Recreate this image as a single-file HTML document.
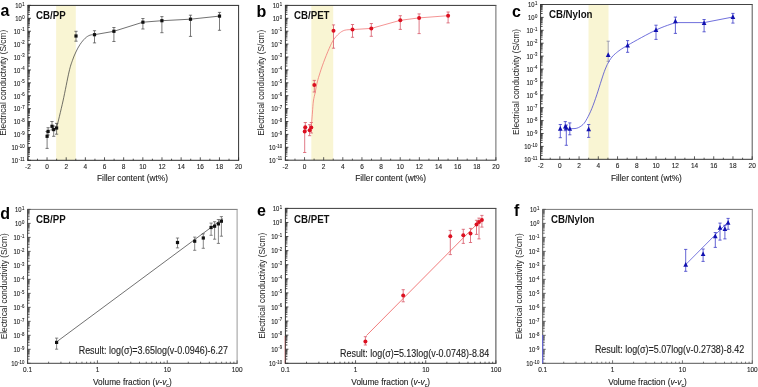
<!DOCTYPE html><html><head><meta charset="utf-8"><style>html,body{margin:0;padding:0;background:#fff;width:758px;height:387px;overflow:hidden}svg{display:block;will-change:transform}</style></head><body><svg width="758" height="387" viewBox="0 0 758 387" font-family='"Liberation Sans", sans-serif'>
<rect width="758" height="387" fill="#fff"/>
<rect x="56.15" y="5.4" width="19.63" height="154.9" fill="#F9F5D3"/>
<rect x="311.33" y="5.4" width="21.91" height="154.8" fill="#F9F5D3"/>
<rect x="588.5" y="4.5" width="20.01" height="154.8" fill="#F9F5D3"/>
<path d="M47.1 136.3V131.5M45.5 131.5h3.2 M47.1 136.3V148.4M45.5 148.4h3.2 M48.1 131.4V127.7M46.5 127.7h3.2 M48.1 131.4V135M46.5 135h3.2 M52 126.3V121.5M50.4 121.5h3.2 M52 126.3V130M50.4 130h3.2 M53.7 129.6V126M52.1 126h3.2 M53.7 129.6V136.3M52.1 136.3h3.2 M56.6 128V123.4M55 123.4h3.2 M56.6 128V134.2M55 134.2h3.2 M76 36V31.3M74.4 31.3h3.2 M76 36V41.2M74.4 41.2h3.2 M94.5 34.7V30.7M92.9 30.7h3.2 M94.5 34.7V42.9M92.9 42.9h3.2 M113.9 31.3V27.5M112.3 27.5h3.2 M113.9 31.3V41.5M112.3 41.5h3.2 M142.9 22.2V18.5M141.3 18.5h3.2 M142.9 22.2V29M141.3 29h3.2 M161.9 20.7V16.6M160.3 16.6h3.2 M161.9 20.7V32.7M160.3 32.7h3.2 M190.5 19.2V15.2M188.9 15.2h3.2 M190.5 19.2V36.4M188.9 36.4h3.2 M219.5 16.1V12.4M217.9 12.4h3.2 M219.5 16.1V30.3M217.9 30.3h3.2" stroke="#444" stroke-width="0.7" fill="none"/>
<path d="M56.6 128 C57.67 123.5 60.93 110.33 63 101 C65.07 91.67 67.43 78.75 69 72 C70.57 65.25 71.25 63.83 72.4 60.5 C73.55 57.17 74.63 54.67 75.9 52 C77.17 49.33 78.45 46.8 80 44.5 C81.55 42.2 83.55 39.75 85.2 38.2 C86.85 36.65 88.35 35.78 89.9 35.2 C91.45 34.62 93.73 34.78 94.5 34.7 L113.9 31.3 L142.9 22.2 L161.9 20.7 L190.5 19.2 L219.5 16.1" stroke="#333" stroke-width="0.7" fill="none"/>
<rect x="45.5" y="134.7" width="3.2" height="3.2" fill="#111"/>
<rect x="46.5" y="129.8" width="3.2" height="3.2" fill="#111"/>
<rect x="50.4" y="124.7" width="3.2" height="3.2" fill="#111"/>
<rect x="52.1" y="128" width="3.2" height="3.2" fill="#111"/>
<rect x="55" y="126.4" width="3.2" height="3.2" fill="#111"/>
<rect x="74.4" y="34.4" width="3.2" height="3.2" fill="#111"/>
<rect x="92.9" y="33.1" width="3.2" height="3.2" fill="#111"/>
<rect x="112.3" y="29.7" width="3.2" height="3.2" fill="#111"/>
<rect x="141.3" y="20.6" width="3.2" height="3.2" fill="#111"/>
<rect x="160.3" y="19.1" width="3.2" height="3.2" fill="#111"/>
<rect x="188.9" y="17.6" width="3.2" height="3.2" fill="#111"/>
<rect x="217.9" y="14.5" width="3.2" height="3.2" fill="#111"/>
<path d="M304.7 131.6V128M303.1 128h3.2 M304.7 131.6V152.5M303.1 152.5h3.2 M305.3 127.3V122.5M303.7 122.5h3.2 M305.3 127.3V130M303.7 130h3.2 M309.6 130.3V124.7M308 124.7h3.2 M309.6 130.3V135.7M308 135.7h3.2 M311.3 127.5V122.5M309.7 122.5h3.2 M311.3 127.5V133M309.7 133h3.2 M314.3 85V80.4M312.7 80.4h3.2 M314.3 85V92M312.7 92h3.2 M333.5 30.7V24.9M331.9 24.9h3.2 M333.5 30.7V48.2M331.9 48.2h3.2 M352.5 29.6V24.5M350.9 24.5h3.2 M352.5 29.6V37.3M350.9 37.3h3.2 M371.3 28.4V23.5M369.7 23.5h3.2 M371.3 28.4V36.3M369.7 36.3h3.2 M400.3 20.3V15.7M398.7 15.7h3.2 M400.3 20.3V29.4M398.7 29.4h3.2 M419.1 17.9V13.9M417.5 13.9h3.2 M419.1 17.9V33.6M417.5 33.6h3.2 M448.1 15.7V12M446.5 12h3.2 M448.1 15.7V22.9M446.5 22.9h3.2" stroke="#D85868" stroke-width="0.8" fill="none"/>
<path d="M311.2 128 C311.4 125.5 312.03 117.5 312.4 113 C312.77 108.5 312.92 104.5 313.4 101 C313.88 97.5 314.73 94.83 315.3 92 C315.87 89.17 316.13 86.83 316.8 84 C317.47 81.17 318.18 78.57 319.3 75 C320.42 71.43 321.85 67.03 323.5 62.6 C325.15 58.17 327.53 52.18 329.2 48.4 C330.87 44.62 331.85 42.38 333.5 39.9 C335.15 37.42 337.22 35.12 339.1 33.5 C340.98 31.88 342.57 30.85 344.8 30.2 C347.03 29.55 351.22 29.7 352.5 29.6 L371.3 28.4 L400.3 20.3 L419.1 17.9 L448.1 15.7" stroke="#F07070" stroke-width="0.75" fill="none"/>
<circle cx="304.7" cy="131.6" r="2.0" fill="#DC1020"/>
<circle cx="305.3" cy="127.3" r="2.0" fill="#DC1020"/>
<circle cx="309.6" cy="130.3" r="2.0" fill="#DC1020"/>
<circle cx="311.3" cy="127.5" r="2.0" fill="#DC1020"/>
<circle cx="314.3" cy="85" r="2.0" fill="#DC1020"/>
<circle cx="333.5" cy="30.7" r="2.0" fill="#DC1020"/>
<circle cx="352.5" cy="29.6" r="2.0" fill="#DC1020"/>
<circle cx="371.3" cy="28.4" r="2.0" fill="#DC1020"/>
<circle cx="400.3" cy="20.3" r="2.0" fill="#DC1020"/>
<circle cx="419.1" cy="17.9" r="2.0" fill="#DC1020"/>
<circle cx="448.1" cy="15.7" r="2.0" fill="#DC1020"/>
<path d="M560.3 128.6V124.5M558.7 124.5h3.2 M560.3 128.6V137.7M558.7 137.7h3.2 M565.3 126.5V121.6M563.7 121.6h3.2 M565.3 126.5V130.7M563.7 130.7h3.2 M566.3 127.6V125M564.7 125h3.2 M566.3 127.6V145.3M564.7 145.3h3.2 M569.8 128.6V122.9M568.2 122.9h3.2 M569.8 128.6V134.8M568.2 134.8h3.2 M588.7 129.1V124.5M587.1 124.5h3.2 M588.7 129.1V137.4M587.1 137.4h3.2 M627.6 45.3V40.6M626 40.6h3.2 M627.6 45.3V52.3M626 52.3h3.2 M656 29.8V25.2M654.4 25.2h3.2 M656 29.8V39.4M654.4 39.4h3.2 M675.4 21.2V17.1M673.8 17.1h3.2 M675.4 21.2V33.4M673.8 33.4h3.2 M704.1 22.8V19.5M702.5 19.5h3.2 M704.1 22.8V31.8M702.5 31.8h3.2 M732.9 16.8V13.4M731.3 13.4h3.2 M732.9 16.8V23.1M731.3 23.1h3.2" stroke="#3c3cc8" stroke-width="0.8" fill="none"/>
<path d="M608.2 54.8V41.2M606.6 41.2h3.2 M608.2 54.8V61.3M606.6 61.3h3.2" stroke="#8080A0" stroke-width="0.7" fill="none"/>
<path d="M569.8 128.6 C570.98 128.53 574.7 128.88 576.9 128.2 C579.1 127.52 581.3 126.12 583 124.5 C584.7 122.88 585.62 121.18 587.1 118.5 C588.58 115.82 590.28 112.35 591.9 108.4 C593.52 104.45 595.2 99.53 596.8 94.8 C598.4 90.07 600.08 84.3 601.5 80 C602.92 75.7 603.97 72.25 605.3 69 C606.63 65.75 607.8 63.08 609.5 60.5 C611.2 57.92 612.48 56.03 615.5 53.5 C618.52 50.97 620.85 49.22 627.6 45.3 C634.35 41.38 648.03 33.78 656 30 C663.97 26.22 672.17 23.83 675.4 22.6 L704.1 22.6 L732.9 17.0" stroke="#4040D0" stroke-width="0.75" fill="none"/>
<path d="M560.3 126.02L562.65 130.72L557.95 130.72Z" fill="#1010B0"/>
<path d="M565.3 123.92L567.65 128.62L562.95 128.62Z" fill="#1010B0"/>
<path d="M566.3 125.02L568.65 129.72L563.95 129.72Z" fill="#1010B0"/>
<path d="M569.8 126.02L572.15 130.72L567.45 130.72Z" fill="#1010B0"/>
<path d="M588.7 126.52L591.05 131.22L586.35 131.22Z" fill="#1010B0"/>
<path d="M608.2 52.21L610.55 56.91L605.85 56.91Z" fill="#1010B0"/>
<path d="M627.6 42.71L629.95 47.41L625.25 47.41Z" fill="#1010B0"/>
<path d="M656 27.21L658.35 31.91L653.65 31.91Z" fill="#1010B0"/>
<path d="M675.4 18.61L677.75 23.31L673.05 23.31Z" fill="#1010B0"/>
<path d="M704.1 20.21L706.45 24.91L701.75 24.91Z" fill="#1010B0"/>
<path d="M732.9 14.21L735.25 18.91L730.55 18.91Z" fill="#1010B0"/>
<path d="M27.4 5.4H239.1" stroke="#2a2a2a" stroke-width="1.0"/>
<path d="M238.6 5.4V160.3" stroke="#333" stroke-width="1.0"/>
<path d="M27.9 5.4V160.8M27.4 160.3H239.1" stroke="#2a2a2a" stroke-width="1.0"/>
<path d="M27.9 5.4h3 M27.9 14.42h2.0 M27.9 12.15h2.0 M27.9 10.54h2.0 M27.9 9.29h2.0 M27.9 8.26h2.0 M27.9 7.4h2.0 M27.9 6.65h2.0 M27.9 5.99h2.0 M27.9 18.31h3 M27.9 27.33h2.0 M27.9 25.06h2.0 M27.9 23.45h2.0 M27.9 22.19h2.0 M27.9 21.17h2.0 M27.9 20.31h2.0 M27.9 19.56h2.0 M27.9 18.9h2.0 M27.9 31.22h3 M27.9 40.24h2.0 M27.9 37.97h2.0 M27.9 36.35h2.0 M27.9 35.1h2.0 M27.9 34.08h2.0 M27.9 33.22h2.0 M27.9 32.47h2.0 M27.9 31.81h2.0 M27.9 44.12h3 M27.9 53.15h2.0 M27.9 50.87h2.0 M27.9 49.26h2.0 M27.9 48.01h2.0 M27.9 46.99h2.0 M27.9 46.12h2.0 M27.9 45.38h2.0 M27.9 44.72h2.0 M27.9 57.03h3 M27.9 66.06h2.0 M27.9 63.78h2.0 M27.9 62.17h2.0 M27.9 60.92h2.0 M27.9 59.9h2.0 M27.9 59.03h2.0 M27.9 58.28h2.0 M27.9 57.62h2.0 M27.9 69.94h3 M27.9 78.96h2.0 M27.9 76.69h2.0 M27.9 75.08h2.0 M27.9 73.83h2.0 M27.9 72.81h2.0 M27.9 71.94h2.0 M27.9 71.19h2.0 M27.9 70.53h2.0 M27.9 82.85h3 M27.9 91.87h2.0 M27.9 89.6h2.0 M27.9 87.99h2.0 M27.9 86.74h2.0 M27.9 85.71h2.0 M27.9 84.85h2.0 M27.9 84.1h2.0 M27.9 83.44h2.0 M27.9 95.76h3 M27.9 104.78h2.0 M27.9 102.51h2.0 M27.9 100.9h2.0 M27.9 99.64h2.0 M27.9 98.62h2.0 M27.9 97.76h2.0 M27.9 97.01h2.0 M27.9 96.35h2.0 M27.9 108.67h3 M27.9 117.69h2.0 M27.9 115.42h2.0 M27.9 113.8h2.0 M27.9 112.55h2.0 M27.9 111.53h2.0 M27.9 110.67h2.0 M27.9 109.92h2.0 M27.9 109.26h2.0 M27.9 121.58h3 M27.9 130.6h2.0 M27.9 128.32h2.0 M27.9 126.71h2.0 M27.9 125.46h2.0 M27.9 124.44h2.0 M27.9 123.57h2.0 M27.9 122.83h2.0 M27.9 122.17h2.0 M27.9 134.48h3 M27.9 143.51h2.0 M27.9 141.23h2.0 M27.9 139.62h2.0 M27.9 138.37h2.0 M27.9 137.35h2.0 M27.9 136.48h2.0 M27.9 135.73h2.0 M27.9 135.07h2.0 M27.9 147.39h3 M27.9 156.41h2.0 M27.9 154.14h2.0 M27.9 152.53h2.0 M27.9 151.28h2.0 M27.9 150.26h2.0 M27.9 149.39h2.0 M27.9 148.64h2.0 M27.9 147.98h2.0 M27.9 160.3h3" stroke="#2a2a2a" stroke-width="0.9" fill="none"/>
<text transform="translate(24.6,5.6) scale(1,1.13)" font-size="4.3" text-anchor="end" fill="#222" stroke="#222" stroke-width="0.1">1</text>
<text transform="translate(21.81,8.2) scale(1,1.2)" font-size="5.9" text-anchor="end" fill="#222" stroke="#222" stroke-width="0.1">10</text>
<text transform="translate(24.6,18.51) scale(1,1.13)" font-size="4.3" text-anchor="end" fill="#222" stroke="#222" stroke-width="0.1">0</text>
<text transform="translate(21.81,21.11) scale(1,1.2)" font-size="5.9" text-anchor="end" fill="#222" stroke="#222" stroke-width="0.1">10</text>
<text transform="translate(24.6,31.42) scale(1,1.13)" font-size="4.3" text-anchor="end" fill="#222" stroke="#222" stroke-width="0.1">-1</text>
<text transform="translate(20.38,34.02) scale(1,1.2)" font-size="5.9" text-anchor="end" fill="#222" stroke="#222" stroke-width="0.1">10</text>
<text transform="translate(24.6,44.33) scale(1,1.13)" font-size="4.3" text-anchor="end" fill="#222" stroke="#222" stroke-width="0.1">-2</text>
<text transform="translate(20.38,46.92) scale(1,1.2)" font-size="5.9" text-anchor="end" fill="#222" stroke="#222" stroke-width="0.1">10</text>
<text transform="translate(24.6,57.23) scale(1,1.13)" font-size="4.3" text-anchor="end" fill="#222" stroke="#222" stroke-width="0.1">-3</text>
<text transform="translate(20.38,59.83) scale(1,1.2)" font-size="5.9" text-anchor="end" fill="#222" stroke="#222" stroke-width="0.1">10</text>
<text transform="translate(24.6,70.14) scale(1,1.13)" font-size="4.3" text-anchor="end" fill="#222" stroke="#222" stroke-width="0.1">-4</text>
<text transform="translate(20.38,72.74) scale(1,1.2)" font-size="5.9" text-anchor="end" fill="#222" stroke="#222" stroke-width="0.1">10</text>
<text transform="translate(24.6,83.05) scale(1,1.13)" font-size="4.3" text-anchor="end" fill="#222" stroke="#222" stroke-width="0.1">-5</text>
<text transform="translate(20.38,85.65) scale(1,1.2)" font-size="5.9" text-anchor="end" fill="#222" stroke="#222" stroke-width="0.1">10</text>
<text transform="translate(24.6,95.96) scale(1,1.13)" font-size="4.3" text-anchor="end" fill="#222" stroke="#222" stroke-width="0.1">-6</text>
<text transform="translate(20.38,98.56) scale(1,1.2)" font-size="5.9" text-anchor="end" fill="#222" stroke="#222" stroke-width="0.1">10</text>
<text transform="translate(24.6,108.87) scale(1,1.13)" font-size="4.3" text-anchor="end" fill="#222" stroke="#222" stroke-width="0.1">-7</text>
<text transform="translate(20.38,111.47) scale(1,1.2)" font-size="5.9" text-anchor="end" fill="#222" stroke="#222" stroke-width="0.1">10</text>
<text transform="translate(24.6,121.78) scale(1,1.13)" font-size="4.3" text-anchor="end" fill="#222" stroke="#222" stroke-width="0.1">-8</text>
<text transform="translate(20.38,124.38) scale(1,1.2)" font-size="5.9" text-anchor="end" fill="#222" stroke="#222" stroke-width="0.1">10</text>
<text transform="translate(24.6,134.68) scale(1,1.13)" font-size="4.3" text-anchor="end" fill="#222" stroke="#222" stroke-width="0.1">-9</text>
<text transform="translate(20.38,137.28) scale(1,1.2)" font-size="5.9" text-anchor="end" fill="#222" stroke="#222" stroke-width="0.1">10</text>
<text transform="translate(24.6,147.59) scale(1,1.13)" font-size="4.3" text-anchor="end" fill="#222" stroke="#222" stroke-width="0.1">-10</text>
<text transform="translate(17.99,150.19) scale(1,1.2)" font-size="5.9" text-anchor="end" fill="#222" stroke="#222" stroke-width="0.1">10</text>
<text transform="translate(24.6,160.5) scale(1,1.13)" font-size="4.3" text-anchor="end" fill="#222" stroke="#222" stroke-width="0.1">-11</text>
<text transform="translate(17.99,163.1) scale(1,1.2)" font-size="5.9" text-anchor="end" fill="#222" stroke="#222" stroke-width="0.1">10</text>
<path d="M27.9 160.3v-3 M37.48 160.3v-1.6 M47.05 160.3v-3 M56.63 160.3v-1.6 M66.21 160.3v-3 M75.79 160.3v-1.6 M85.36 160.3v-3 M94.94 160.3v-1.6 M104.52 160.3v-3 M114.1 160.3v-1.6 M123.67 160.3v-3 M133.25 160.3v-1.6 M142.83 160.3v-3 M152.4 160.3v-1.6 M161.98 160.3v-3 M171.56 160.3v-1.6 M181.14 160.3v-3 M190.71 160.3v-1.6 M200.29 160.3v-3 M209.87 160.3v-1.6 M219.45 160.3v-3 M229.02 160.3v-1.6 M238.6 160.3v-3" stroke="#2a2a2a" stroke-width="0.8" fill="none"/>
<text transform="translate(27.9,169.15) scale(1,1.13)" font-size="6.5" text-anchor="middle" fill="#222" stroke="#222" stroke-width="0.1">-2</text>
<text transform="translate(47.05,169.15) scale(1,1.13)" font-size="6.5" text-anchor="middle" fill="#222" stroke="#222" stroke-width="0.1">0</text>
<text transform="translate(66.21,169.15) scale(1,1.13)" font-size="6.5" text-anchor="middle" fill="#222" stroke="#222" stroke-width="0.1">2</text>
<text transform="translate(85.36,169.15) scale(1,1.13)" font-size="6.5" text-anchor="middle" fill="#222" stroke="#222" stroke-width="0.1">4</text>
<text transform="translate(104.52,169.15) scale(1,1.13)" font-size="6.5" text-anchor="middle" fill="#222" stroke="#222" stroke-width="0.1">6</text>
<text transform="translate(123.67,169.15) scale(1,1.13)" font-size="6.5" text-anchor="middle" fill="#222" stroke="#222" stroke-width="0.1">8</text>
<text transform="translate(142.83,169.15) scale(1,1.13)" font-size="6.5" text-anchor="middle" fill="#222" stroke="#222" stroke-width="0.1">10</text>
<text transform="translate(161.98,169.15) scale(1,1.13)" font-size="6.5" text-anchor="middle" fill="#222" stroke="#222" stroke-width="0.1">12</text>
<text transform="translate(181.14,169.15) scale(1,1.13)" font-size="6.5" text-anchor="middle" fill="#222" stroke="#222" stroke-width="0.1">14</text>
<text transform="translate(200.29,169.15) scale(1,1.13)" font-size="6.5" text-anchor="middle" fill="#222" stroke="#222" stroke-width="0.1">16</text>
<text transform="translate(219.45,169.15) scale(1,1.13)" font-size="6.5" text-anchor="middle" fill="#222" stroke="#222" stroke-width="0.1">18</text>
<text transform="translate(238.6,169.15) scale(1,1.13)" font-size="6.5" text-anchor="middle" fill="#222" stroke="#222" stroke-width="0.1">20</text>
<text transform="translate(132.45,181) scale(1,1.03)" font-size="8.3" text-anchor="middle" fill="#222" stroke="#222" stroke-width="0.1">Filler content (wt%)</text>
<text transform="translate(6.1,82.85) rotate(-90) scale(1,1.0)" font-size="8.3" text-anchor="middle" fill="#222">Electrical conductivity (S/cm)</text>
<path d="M284.9 5.4H496.4" stroke="#333" stroke-width="1.0"/>
<path d="M495.9 5.4V160.2" stroke="#666" stroke-width="1.0"/>
<path d="M285.4 5.4V160.7M284.9 160.2H496.4" stroke="#333" stroke-width="1.0"/>
<path d="M285.4 5.4h3 M285.4 14.42h2.0 M285.4 12.15h2.0 M285.4 10.53h2.0 M285.4 9.28h2.0 M285.4 8.26h2.0 M285.4 7.4h2.0 M285.4 6.65h2.0 M285.4 5.99h2.0 M285.4 18.3h3 M285.4 27.32h2.0 M285.4 25.05h2.0 M285.4 23.43h2.0 M285.4 22.18h2.0 M285.4 21.16h2.0 M285.4 20.3h2.0 M285.4 19.55h2.0 M285.4 18.89h2.0 M285.4 31.2h3 M285.4 40.22h2.0 M285.4 37.95h2.0 M285.4 36.33h2.0 M285.4 35.08h2.0 M285.4 34.06h2.0 M285.4 33.2h2.0 M285.4 32.45h2.0 M285.4 31.79h2.0 M285.4 44.1h3 M285.4 53.12h2.0 M285.4 50.85h2.0 M285.4 49.23h2.0 M285.4 47.98h2.0 M285.4 46.96h2.0 M285.4 46.1h2.0 M285.4 45.35h2.0 M285.4 44.69h2.0 M285.4 57h3 M285.4 66.02h2.0 M285.4 63.75h2.0 M285.4 62.13h2.0 M285.4 60.88h2.0 M285.4 59.86h2.0 M285.4 59h2.0 M285.4 58.25h2.0 M285.4 57.59h2.0 M285.4 69.9h3 M285.4 78.92h2.0 M285.4 76.65h2.0 M285.4 75.03h2.0 M285.4 73.78h2.0 M285.4 72.76h2.0 M285.4 71.9h2.0 M285.4 71.15h2.0 M285.4 70.49h2.0 M285.4 82.8h3 M285.4 91.82h2.0 M285.4 89.55h2.0 M285.4 87.93h2.0 M285.4 86.68h2.0 M285.4 85.66h2.0 M285.4 84.8h2.0 M285.4 84.05h2.0 M285.4 83.39h2.0 M285.4 95.7h3 M285.4 104.72h2.0 M285.4 102.45h2.0 M285.4 100.83h2.0 M285.4 99.58h2.0 M285.4 98.56h2.0 M285.4 97.7h2.0 M285.4 96.95h2.0 M285.4 96.29h2.0 M285.4 108.6h3 M285.4 117.62h2.0 M285.4 115.35h2.0 M285.4 113.73h2.0 M285.4 112.48h2.0 M285.4 111.46h2.0 M285.4 110.6h2.0 M285.4 109.85h2.0 M285.4 109.19h2.0 M285.4 121.5h3 M285.4 130.52h2.0 M285.4 128.25h2.0 M285.4 126.63h2.0 M285.4 125.38h2.0 M285.4 124.36h2.0 M285.4 123.5h2.0 M285.4 122.75h2.0 M285.4 122.09h2.0 M285.4 134.4h3 M285.4 143.42h2.0 M285.4 141.15h2.0 M285.4 139.53h2.0 M285.4 138.28h2.0 M285.4 137.26h2.0 M285.4 136.4h2.0 M285.4 135.65h2.0 M285.4 134.99h2.0 M285.4 147.3h3 M285.4 156.32h2.0 M285.4 154.05h2.0 M285.4 152.43h2.0 M285.4 151.18h2.0 M285.4 150.16h2.0 M285.4 149.3h2.0 M285.4 148.55h2.0 M285.4 147.89h2.0 M285.4 160.2h3" stroke="#333" stroke-width="0.9" fill="none"/>
<text transform="translate(282.1,5.6) scale(1,1.13)" font-size="4.3" text-anchor="end" fill="#222" stroke="#222" stroke-width="0.1">1</text>
<text transform="translate(279.31,8.2) scale(1,1.2)" font-size="5.9" text-anchor="end" fill="#222" stroke="#222" stroke-width="0.1">10</text>
<text transform="translate(282.1,18.5) scale(1,1.13)" font-size="4.3" text-anchor="end" fill="#222" stroke="#222" stroke-width="0.1">0</text>
<text transform="translate(279.31,21.1) scale(1,1.2)" font-size="5.9" text-anchor="end" fill="#222" stroke="#222" stroke-width="0.1">10</text>
<text transform="translate(282.1,31.4) scale(1,1.13)" font-size="4.3" text-anchor="end" fill="#222" stroke="#222" stroke-width="0.1">-1</text>
<text transform="translate(277.88,34) scale(1,1.2)" font-size="5.9" text-anchor="end" fill="#222" stroke="#222" stroke-width="0.1">10</text>
<text transform="translate(282.1,44.3) scale(1,1.13)" font-size="4.3" text-anchor="end" fill="#222" stroke="#222" stroke-width="0.1">-2</text>
<text transform="translate(277.88,46.9) scale(1,1.2)" font-size="5.9" text-anchor="end" fill="#222" stroke="#222" stroke-width="0.1">10</text>
<text transform="translate(282.1,57.2) scale(1,1.13)" font-size="4.3" text-anchor="end" fill="#222" stroke="#222" stroke-width="0.1">-3</text>
<text transform="translate(277.88,59.8) scale(1,1.2)" font-size="5.9" text-anchor="end" fill="#222" stroke="#222" stroke-width="0.1">10</text>
<text transform="translate(282.1,70.1) scale(1,1.13)" font-size="4.3" text-anchor="end" fill="#222" stroke="#222" stroke-width="0.1">-4</text>
<text transform="translate(277.88,72.7) scale(1,1.2)" font-size="5.9" text-anchor="end" fill="#222" stroke="#222" stroke-width="0.1">10</text>
<text transform="translate(282.1,83) scale(1,1.13)" font-size="4.3" text-anchor="end" fill="#222" stroke="#222" stroke-width="0.1">-5</text>
<text transform="translate(277.88,85.6) scale(1,1.2)" font-size="5.9" text-anchor="end" fill="#222" stroke="#222" stroke-width="0.1">10</text>
<text transform="translate(282.1,95.9) scale(1,1.13)" font-size="4.3" text-anchor="end" fill="#222" stroke="#222" stroke-width="0.1">-6</text>
<text transform="translate(277.88,98.5) scale(1,1.2)" font-size="5.9" text-anchor="end" fill="#222" stroke="#222" stroke-width="0.1">10</text>
<text transform="translate(282.1,108.8) scale(1,1.13)" font-size="4.3" text-anchor="end" fill="#222" stroke="#222" stroke-width="0.1">-7</text>
<text transform="translate(277.88,111.4) scale(1,1.2)" font-size="5.9" text-anchor="end" fill="#222" stroke="#222" stroke-width="0.1">10</text>
<text transform="translate(282.1,121.7) scale(1,1.13)" font-size="4.3" text-anchor="end" fill="#222" stroke="#222" stroke-width="0.1">-8</text>
<text transform="translate(277.88,124.3) scale(1,1.2)" font-size="5.9" text-anchor="end" fill="#222" stroke="#222" stroke-width="0.1">10</text>
<text transform="translate(282.1,134.6) scale(1,1.13)" font-size="4.3" text-anchor="end" fill="#222" stroke="#222" stroke-width="0.1">-9</text>
<text transform="translate(277.88,137.2) scale(1,1.2)" font-size="5.9" text-anchor="end" fill="#222" stroke="#222" stroke-width="0.1">10</text>
<text transform="translate(282.1,147.5) scale(1,1.13)" font-size="4.3" text-anchor="end" fill="#222" stroke="#222" stroke-width="0.1">-10</text>
<text transform="translate(275.49,150.1) scale(1,1.2)" font-size="5.9" text-anchor="end" fill="#222" stroke="#222" stroke-width="0.1">10</text>
<text transform="translate(282.1,160.4) scale(1,1.13)" font-size="4.3" text-anchor="end" fill="#222" stroke="#222" stroke-width="0.1">-11</text>
<text transform="translate(275.49,163) scale(1,1.2)" font-size="5.9" text-anchor="end" fill="#222" stroke="#222" stroke-width="0.1">10</text>
<path d="M285.4 160.2v-3 M294.97 160.2v-1.6 M304.54 160.2v-3 M314.1 160.2v-1.6 M323.67 160.2v-3 M333.24 160.2v-1.6 M342.81 160.2v-3 M352.38 160.2v-1.6 M361.95 160.2v-3 M371.51 160.2v-1.6 M381.08 160.2v-3 M390.65 160.2v-1.6 M400.22 160.2v-3 M409.79 160.2v-1.6 M419.35 160.2v-3 M428.92 160.2v-1.6 M438.49 160.2v-3 M448.06 160.2v-1.6 M457.63 160.2v-3 M467.2 160.2v-1.6 M476.76 160.2v-3 M486.33 160.2v-1.6 M495.9 160.2v-3" stroke="#333" stroke-width="0.8" fill="none"/>
<text transform="translate(285.4,169.05) scale(1,1.13)" font-size="6.5" text-anchor="middle" fill="#222" stroke="#222" stroke-width="0.1">-2</text>
<text transform="translate(304.54,169.05) scale(1,1.13)" font-size="6.5" text-anchor="middle" fill="#222" stroke="#222" stroke-width="0.1">0</text>
<text transform="translate(323.67,169.05) scale(1,1.13)" font-size="6.5" text-anchor="middle" fill="#222" stroke="#222" stroke-width="0.1">2</text>
<text transform="translate(342.81,169.05) scale(1,1.13)" font-size="6.5" text-anchor="middle" fill="#222" stroke="#222" stroke-width="0.1">4</text>
<text transform="translate(361.95,169.05) scale(1,1.13)" font-size="6.5" text-anchor="middle" fill="#222" stroke="#222" stroke-width="0.1">6</text>
<text transform="translate(381.08,169.05) scale(1,1.13)" font-size="6.5" text-anchor="middle" fill="#222" stroke="#222" stroke-width="0.1">8</text>
<text transform="translate(400.22,169.05) scale(1,1.13)" font-size="6.5" text-anchor="middle" fill="#222" stroke="#222" stroke-width="0.1">10</text>
<text transform="translate(419.35,169.05) scale(1,1.13)" font-size="6.5" text-anchor="middle" fill="#222" stroke="#222" stroke-width="0.1">12</text>
<text transform="translate(438.49,169.05) scale(1,1.13)" font-size="6.5" text-anchor="middle" fill="#222" stroke="#222" stroke-width="0.1">14</text>
<text transform="translate(457.63,169.05) scale(1,1.13)" font-size="6.5" text-anchor="middle" fill="#222" stroke="#222" stroke-width="0.1">16</text>
<text transform="translate(476.76,169.05) scale(1,1.13)" font-size="6.5" text-anchor="middle" fill="#222" stroke="#222" stroke-width="0.1">18</text>
<text transform="translate(495.9,169.05) scale(1,1.13)" font-size="6.5" text-anchor="middle" fill="#222" stroke="#222" stroke-width="0.1">20</text>
<text transform="translate(390.65,181) scale(1,1.03)" font-size="8.3" text-anchor="middle" fill="#222" stroke="#222" stroke-width="0.1">Filler content (wt%)</text>
<text transform="translate(263.8,82.8) rotate(-90) scale(1,1.0)" font-size="8.3" text-anchor="middle" fill="#222">Electrical conductivity (S/cm)</text>
<path d="M540.1 4.5H752.7" stroke="#444" stroke-width="1.0"/>
<path d="M752.2 4.5V159.3" stroke="#555" stroke-width="1.0"/>
<path d="M540.6 4.5V159.8M540.1 159.3H752.7" stroke="#333" stroke-width="1.0"/>
<path d="M540.6 4.5h3 M540.6 13.52h2.0 M540.6 11.25h2.0 M540.6 9.63h2.0 M540.6 8.38h2.0 M540.6 7.36h2.0 M540.6 6.5h2.0 M540.6 5.75h2.0 M540.6 5.09h2.0 M540.6 17.4h3 M540.6 26.42h2.0 M540.6 24.15h2.0 M540.6 22.53h2.0 M540.6 21.28h2.0 M540.6 20.26h2.0 M540.6 19.4h2.0 M540.6 18.65h2.0 M540.6 17.99h2.0 M540.6 30.3h3 M540.6 39.32h2.0 M540.6 37.05h2.0 M540.6 35.43h2.0 M540.6 34.18h2.0 M540.6 33.16h2.0 M540.6 32.3h2.0 M540.6 31.55h2.0 M540.6 30.89h2.0 M540.6 43.2h3 M540.6 52.22h2.0 M540.6 49.95h2.0 M540.6 48.33h2.0 M540.6 47.08h2.0 M540.6 46.06h2.0 M540.6 45.2h2.0 M540.6 44.45h2.0 M540.6 43.79h2.0 M540.6 56.1h3 M540.6 65.12h2.0 M540.6 62.85h2.0 M540.6 61.23h2.0 M540.6 59.98h2.0 M540.6 58.96h2.0 M540.6 58.1h2.0 M540.6 57.35h2.0 M540.6 56.69h2.0 M540.6 69h3 M540.6 78.02h2.0 M540.6 75.75h2.0 M540.6 74.13h2.0 M540.6 72.88h2.0 M540.6 71.86h2.0 M540.6 71h2.0 M540.6 70.25h2.0 M540.6 69.59h2.0 M540.6 81.9h3 M540.6 90.92h2.0 M540.6 88.65h2.0 M540.6 87.03h2.0 M540.6 85.78h2.0 M540.6 84.76h2.0 M540.6 83.9h2.0 M540.6 83.15h2.0 M540.6 82.49h2.0 M540.6 94.8h3 M540.6 103.82h2.0 M540.6 101.55h2.0 M540.6 99.93h2.0 M540.6 98.68h2.0 M540.6 97.66h2.0 M540.6 96.8h2.0 M540.6 96.05h2.0 M540.6 95.39h2.0 M540.6 107.7h3 M540.6 116.72h2.0 M540.6 114.45h2.0 M540.6 112.83h2.0 M540.6 111.58h2.0 M540.6 110.56h2.0 M540.6 109.7h2.0 M540.6 108.95h2.0 M540.6 108.29h2.0 M540.6 120.6h3 M540.6 129.62h2.0 M540.6 127.35h2.0 M540.6 125.73h2.0 M540.6 124.48h2.0 M540.6 123.46h2.0 M540.6 122.6h2.0 M540.6 121.85h2.0 M540.6 121.19h2.0 M540.6 133.5h3 M540.6 142.52h2.0 M540.6 140.25h2.0 M540.6 138.63h2.0 M540.6 137.38h2.0 M540.6 136.36h2.0 M540.6 135.5h2.0 M540.6 134.75h2.0 M540.6 134.09h2.0 M540.6 146.4h3 M540.6 155.42h2.0 M540.6 153.15h2.0 M540.6 151.53h2.0 M540.6 150.28h2.0 M540.6 149.26h2.0 M540.6 148.4h2.0 M540.6 147.65h2.0 M540.6 146.99h2.0 M540.6 159.3h3" stroke="#333" stroke-width="0.9" fill="none"/>
<text transform="translate(537.3,4.7) scale(1,1.13)" font-size="4.3" text-anchor="end" fill="#222" stroke="#222" stroke-width="0.1">1</text>
<text transform="translate(534.51,7.3) scale(1,1.2)" font-size="5.9" text-anchor="end" fill="#222" stroke="#222" stroke-width="0.1">10</text>
<text transform="translate(537.3,17.6) scale(1,1.13)" font-size="4.3" text-anchor="end" fill="#222" stroke="#222" stroke-width="0.1">0</text>
<text transform="translate(534.51,20.2) scale(1,1.2)" font-size="5.9" text-anchor="end" fill="#222" stroke="#222" stroke-width="0.1">10</text>
<text transform="translate(537.3,30.5) scale(1,1.13)" font-size="4.3" text-anchor="end" fill="#222" stroke="#222" stroke-width="0.1">-1</text>
<text transform="translate(533.08,33.1) scale(1,1.2)" font-size="5.9" text-anchor="end" fill="#222" stroke="#222" stroke-width="0.1">10</text>
<text transform="translate(537.3,43.4) scale(1,1.13)" font-size="4.3" text-anchor="end" fill="#222" stroke="#222" stroke-width="0.1">-2</text>
<text transform="translate(533.08,46) scale(1,1.2)" font-size="5.9" text-anchor="end" fill="#222" stroke="#222" stroke-width="0.1">10</text>
<text transform="translate(537.3,56.3) scale(1,1.13)" font-size="4.3" text-anchor="end" fill="#222" stroke="#222" stroke-width="0.1">-3</text>
<text transform="translate(533.08,58.9) scale(1,1.2)" font-size="5.9" text-anchor="end" fill="#222" stroke="#222" stroke-width="0.1">10</text>
<text transform="translate(537.3,69.2) scale(1,1.13)" font-size="4.3" text-anchor="end" fill="#222" stroke="#222" stroke-width="0.1">-4</text>
<text transform="translate(533.08,71.8) scale(1,1.2)" font-size="5.9" text-anchor="end" fill="#222" stroke="#222" stroke-width="0.1">10</text>
<text transform="translate(537.3,82.1) scale(1,1.13)" font-size="4.3" text-anchor="end" fill="#222" stroke="#222" stroke-width="0.1">-5</text>
<text transform="translate(533.08,84.7) scale(1,1.2)" font-size="5.9" text-anchor="end" fill="#222" stroke="#222" stroke-width="0.1">10</text>
<text transform="translate(537.3,95) scale(1,1.13)" font-size="4.3" text-anchor="end" fill="#222" stroke="#222" stroke-width="0.1">-6</text>
<text transform="translate(533.08,97.6) scale(1,1.2)" font-size="5.9" text-anchor="end" fill="#222" stroke="#222" stroke-width="0.1">10</text>
<text transform="translate(537.3,107.9) scale(1,1.13)" font-size="4.3" text-anchor="end" fill="#222" stroke="#222" stroke-width="0.1">-7</text>
<text transform="translate(533.08,110.5) scale(1,1.2)" font-size="5.9" text-anchor="end" fill="#222" stroke="#222" stroke-width="0.1">10</text>
<text transform="translate(537.3,120.8) scale(1,1.13)" font-size="4.3" text-anchor="end" fill="#222" stroke="#222" stroke-width="0.1">-8</text>
<text transform="translate(533.08,123.4) scale(1,1.2)" font-size="5.9" text-anchor="end" fill="#222" stroke="#222" stroke-width="0.1">10</text>
<text transform="translate(537.3,133.7) scale(1,1.13)" font-size="4.3" text-anchor="end" fill="#222" stroke="#222" stroke-width="0.1">-9</text>
<text transform="translate(533.08,136.3) scale(1,1.2)" font-size="5.9" text-anchor="end" fill="#222" stroke="#222" stroke-width="0.1">10</text>
<text transform="translate(537.3,146.6) scale(1,1.13)" font-size="4.3" text-anchor="end" fill="#222" stroke="#222" stroke-width="0.1">-10</text>
<text transform="translate(530.69,149.2) scale(1,1.2)" font-size="5.9" text-anchor="end" fill="#222" stroke="#222" stroke-width="0.1">10</text>
<text transform="translate(537.3,159.5) scale(1,1.13)" font-size="4.3" text-anchor="end" fill="#222" stroke="#222" stroke-width="0.1">-11</text>
<text transform="translate(530.69,162.1) scale(1,1.2)" font-size="5.9" text-anchor="end" fill="#222" stroke="#222" stroke-width="0.1">10</text>
<path d="M540.6 159.3v-3 M550.22 159.3v-1.6 M559.84 159.3v-3 M569.45 159.3v-1.6 M579.07 159.3v-3 M588.69 159.3v-1.6 M598.31 159.3v-3 M607.93 159.3v-1.6 M617.55 159.3v-3 M627.16 159.3v-1.6 M636.78 159.3v-3 M646.4 159.3v-1.6 M656.02 159.3v-3 M665.64 159.3v-1.6 M675.25 159.3v-3 M684.87 159.3v-1.6 M694.49 159.3v-3 M704.11 159.3v-1.6 M713.73 159.3v-3 M723.35 159.3v-1.6 M732.96 159.3v-3 M742.58 159.3v-1.6 M752.2 159.3v-3" stroke="#333" stroke-width="0.8" fill="none"/>
<text transform="translate(540.6,168.15) scale(1,1.13)" font-size="6.5" text-anchor="middle" fill="#222" stroke="#222" stroke-width="0.1">-2</text>
<text transform="translate(559.84,168.15) scale(1,1.13)" font-size="6.5" text-anchor="middle" fill="#222" stroke="#222" stroke-width="0.1">0</text>
<text transform="translate(579.07,168.15) scale(1,1.13)" font-size="6.5" text-anchor="middle" fill="#222" stroke="#222" stroke-width="0.1">2</text>
<text transform="translate(598.31,168.15) scale(1,1.13)" font-size="6.5" text-anchor="middle" fill="#222" stroke="#222" stroke-width="0.1">4</text>
<text transform="translate(617.55,168.15) scale(1,1.13)" font-size="6.5" text-anchor="middle" fill="#222" stroke="#222" stroke-width="0.1">6</text>
<text transform="translate(636.78,168.15) scale(1,1.13)" font-size="6.5" text-anchor="middle" fill="#222" stroke="#222" stroke-width="0.1">8</text>
<text transform="translate(656.02,168.15) scale(1,1.13)" font-size="6.5" text-anchor="middle" fill="#222" stroke="#222" stroke-width="0.1">10</text>
<text transform="translate(675.25,168.15) scale(1,1.13)" font-size="6.5" text-anchor="middle" fill="#222" stroke="#222" stroke-width="0.1">12</text>
<text transform="translate(694.49,168.15) scale(1,1.13)" font-size="6.5" text-anchor="middle" fill="#222" stroke="#222" stroke-width="0.1">14</text>
<text transform="translate(713.73,168.15) scale(1,1.13)" font-size="6.5" text-anchor="middle" fill="#222" stroke="#222" stroke-width="0.1">16</text>
<text transform="translate(732.96,168.15) scale(1,1.13)" font-size="6.5" text-anchor="middle" fill="#222" stroke="#222" stroke-width="0.1">18</text>
<text transform="translate(752.2,168.15) scale(1,1.13)" font-size="6.5" text-anchor="middle" fill="#222" stroke="#222" stroke-width="0.1">20</text>
<text transform="translate(646.4,181) scale(1,1.03)" font-size="8.3" text-anchor="middle" fill="#222" stroke="#222" stroke-width="0.1">Filler content (wt%)</text>
<text transform="translate(519.2,81.9) rotate(-90) scale(1,1.0)" font-size="8.3" text-anchor="middle" fill="#222">Electrical conductivity (S/cm)</text>
<path d="M56.6 342.4V338.1M55 338.1h3.2 M56.6 342.4V349.2M55 349.2h3.2 M177.5 242.5V238M175.9 238h3.2 M177.5 242.5V247.9M175.9 247.9h3.2 M194.7 241.2V237.1M193.1 237.1h3.2 M194.7 241.2V250.3M193.1 250.3h3.2 M203.3 238V233.8M201.7 233.8h3.2 M203.3 238V248.3M201.7 248.3h3.2 M211.1 227.5V223.1M209.5 223.1h3.2 M211.1 227.5V235.3M209.5 235.3h3.2 M214.6 226.2V221.7M213 221.7h3.2 M214.6 226.2V239.2M213 239.2h3.2 M218.4 223.9V219.5M216.8 219.5h3.2 M218.4 223.9V243.4M216.8 243.4h3.2 M221.4 221.2V216.6M219.8 216.6h3.2 M221.4 221.2V236.2M219.8 236.2h3.2" stroke="#555" stroke-width="0.7" fill="none"/>
<path d="M58 340.8 L223 218.6" stroke="#333" stroke-width="0.7" fill="none"/>
<rect x="55" y="340.8" width="3.2" height="3.2" fill="#111"/>
<rect x="175.9" y="240.9" width="3.2" height="3.2" fill="#111"/>
<rect x="193.1" y="239.6" width="3.2" height="3.2" fill="#111"/>
<rect x="201.7" y="236.4" width="3.2" height="3.2" fill="#111"/>
<rect x="209.5" y="225.9" width="3.2" height="3.2" fill="#111"/>
<rect x="213" y="224.6" width="3.2" height="3.2" fill="#111"/>
<rect x="216.8" y="222.3" width="3.2" height="3.2" fill="#111"/>
<rect x="219.8" y="219.6" width="3.2" height="3.2" fill="#111"/>
<path d="M365.4 341.5V336.7M363.8 336.7h3.2 M365.4 341.5V345M363.8 345h3.2 M403.2 295.4V289.7M401.6 289.7h3.2 M403.2 295.4V301.8M401.6 301.8h3.2 M450.3 236.2V230.4M448.7 230.4h3.2 M450.3 236.2V254.6M448.7 254.6h3.2 M463.3 235.3V229.3M461.7 229.3h3.2 M463.3 235.3V243.4M461.7 243.4h3.2 M470.5 233.5V228.4M468.9 228.4h3.2 M470.5 233.5V242.5M468.9 242.5h3.2 M476.5 224.4V220.3M474.9 220.3h3.2 M476.5 224.4V234.4M474.9 234.4h3.2 M479 222.1V218.1M477.4 218.1h3.2 M479 222.1V238.9M477.4 238.9h3.2 M481.9 219.9V215.4M480.3 215.4h3.2 M481.9 219.9V227.1M480.3 227.1h3.2" stroke="#D85868" stroke-width="0.8" fill="none"/>
<path d="M366.5 335.5 L483 218" stroke="#EC5050" stroke-width="0.75" fill="none"/>
<circle cx="365.4" cy="341.5" r="2.0" fill="#DC1020"/>
<circle cx="403.2" cy="295.4" r="2.0" fill="#DC1020"/>
<circle cx="450.3" cy="236.2" r="2.0" fill="#DC1020"/>
<circle cx="463.3" cy="235.3" r="2.0" fill="#DC1020"/>
<circle cx="470.5" cy="233.5" r="2.0" fill="#DC1020"/>
<circle cx="476.5" cy="224.4" r="2.0" fill="#DC1020"/>
<circle cx="479" cy="222.1" r="2.0" fill="#DC1020"/>
<circle cx="481.9" cy="219.9" r="2.0" fill="#DC1020"/>
<path d="M685.7 264.6V249.4M684.1 249.4h3.2 M685.7 264.6V271.3M684.1 271.3h3.2 M703.1 254V249M701.5 249h3.2 M703.1 254V261.4M701.5 261.4h3.2 M715.3 236.2V232.5M713.7 232.5h3.2 M715.3 236.2V247.4M713.7 247.4h3.2 M720 227.7V223.1M718.4 223.1h3.2 M720 227.7V240.1M718.4 240.1h3.2 M724.9 228.9V225.3M723.3 225.3h3.2 M724.9 228.9V238.9M723.3 238.9h3.2 M728.1 222.6V218.4M726.5 218.4h3.2 M728.1 222.6V229.3M726.5 229.3h3.2" stroke="#3c3cc8" stroke-width="0.8" fill="none"/>
<path d="M685.7 264.6 L729 221" stroke="#4040D0" stroke-width="0.7" fill="none"/>
<path d="M685.7 262.02L688.05 266.72L683.35 266.72Z" fill="#1010B0"/>
<path d="M703.1 251.41L705.45 256.12L700.75 256.12Z" fill="#1010B0"/>
<path d="M715.3 233.61L717.65 238.31L712.95 238.31Z" fill="#1010B0"/>
<path d="M720 225.11L722.35 229.81L717.65 229.81Z" fill="#1010B0"/>
<path d="M724.9 226.31L727.25 231.02L722.55 231.02Z" fill="#1010B0"/>
<path d="M728.1 220.01L730.45 224.72L725.75 224.72Z" fill="#1010B0"/>
<path d="M27.1 209.4H237.6" stroke="#777" stroke-width="1.0"/>
<path d="M237.1 209.4V363.3" stroke="#999" stroke-width="1.0"/>
<path d="M27.6 209.4V363.8M27.1 363.3H237.6" stroke="#444" stroke-width="1.0"/>
<path d="M27.6 209.4h3 M27.6 219.18h2.0 M27.6 216.72h2.0 M27.6 214.97h2.0 M27.6 213.61h2.0 M27.6 212.5h2.0 M27.6 211.57h2.0 M27.6 210.76h2.0 M27.6 210.04h2.0 M27.6 223.39h3 M27.6 233.17h2.0 M27.6 230.71h2.0 M27.6 228.96h2.0 M27.6 227.6h2.0 M27.6 226.49h2.0 M27.6 225.56h2.0 M27.6 224.75h2.0 M27.6 224.03h2.0 M27.6 237.38h3 M27.6 247.16h2.0 M27.6 244.7h2.0 M27.6 242.95h2.0 M27.6 241.59h2.0 M27.6 240.49h2.0 M27.6 239.55h2.0 M27.6 238.74h2.0 M27.6 238.02h2.0 M27.6 251.37h3 M27.6 261.15h2.0 M27.6 258.69h2.0 M27.6 256.94h2.0 M27.6 255.58h2.0 M27.6 254.48h2.0 M27.6 253.54h2.0 M27.6 252.73h2.0 M27.6 252.01h2.0 M27.6 265.36h3 M27.6 275.14h2.0 M27.6 272.68h2.0 M27.6 270.93h2.0 M27.6 269.58h2.0 M27.6 268.47h2.0 M27.6 267.53h2.0 M27.6 266.72h2.0 M27.6 266h2.0 M27.6 279.35h3 M27.6 289.13h2.0 M27.6 286.67h2.0 M27.6 284.92h2.0 M27.6 283.57h2.0 M27.6 282.46h2.0 M27.6 281.52h2.0 M27.6 280.71h2.0 M27.6 279.99h2.0 M27.6 293.35h3 M27.6 303.12h2.0 M27.6 300.66h2.0 M27.6 298.91h2.0 M27.6 297.56h2.0 M27.6 296.45h2.0 M27.6 295.51h2.0 M27.6 294.7h2.0 M27.6 293.99h2.0 M27.6 307.34h3 M27.6 317.12h2.0 M27.6 314.65h2.0 M27.6 312.9h2.0 M27.6 311.55h2.0 M27.6 310.44h2.0 M27.6 309.5h2.0 M27.6 308.69h2.0 M27.6 307.98h2.0 M27.6 321.33h3 M27.6 331.11h2.0 M27.6 328.64h2.0 M27.6 326.89h2.0 M27.6 325.54h2.0 M27.6 324.43h2.0 M27.6 323.49h2.0 M27.6 322.68h2.0 M27.6 321.97h2.0 M27.6 335.32h3 M27.6 345.1h2.0 M27.6 342.63h2.0 M27.6 340.89h2.0 M27.6 339.53h2.0 M27.6 338.42h2.0 M27.6 337.49h2.0 M27.6 336.67h2.0 M27.6 335.96h2.0 M27.6 349.31h3 M27.6 359.09h2.0 M27.6 356.62h2.0 M27.6 354.88h2.0 M27.6 353.52h2.0 M27.6 352.41h2.0 M27.6 351.48h2.0 M27.6 350.66h2.0 M27.6 349.95h2.0 M27.6 363.3h3" stroke="#444" stroke-width="0.9" fill="none"/>
<text transform="translate(24.3,209.6) scale(1,1.13)" font-size="4.3" text-anchor="end" fill="#222" stroke="#222" stroke-width="0.1">1</text>
<text transform="translate(21.51,212.2) scale(1,1.2)" font-size="5.9" text-anchor="end" fill="#222" stroke="#222" stroke-width="0.1">10</text>
<text transform="translate(24.3,223.59) scale(1,1.13)" font-size="4.3" text-anchor="end" fill="#222" stroke="#222" stroke-width="0.1">0</text>
<text transform="translate(21.51,226.19) scale(1,1.2)" font-size="5.9" text-anchor="end" fill="#222" stroke="#222" stroke-width="0.1">10</text>
<text transform="translate(24.3,237.58) scale(1,1.13)" font-size="4.3" text-anchor="end" fill="#222" stroke="#222" stroke-width="0.1">-1</text>
<text transform="translate(20.08,240.18) scale(1,1.2)" font-size="5.9" text-anchor="end" fill="#222" stroke="#222" stroke-width="0.1">10</text>
<text transform="translate(24.3,251.57) scale(1,1.13)" font-size="4.3" text-anchor="end" fill="#222" stroke="#222" stroke-width="0.1">-2</text>
<text transform="translate(20.08,254.17) scale(1,1.2)" font-size="5.9" text-anchor="end" fill="#222" stroke="#222" stroke-width="0.1">10</text>
<text transform="translate(24.3,265.56) scale(1,1.13)" font-size="4.3" text-anchor="end" fill="#222" stroke="#222" stroke-width="0.1">-3</text>
<text transform="translate(20.08,268.16) scale(1,1.2)" font-size="5.9" text-anchor="end" fill="#222" stroke="#222" stroke-width="0.1">10</text>
<text transform="translate(24.3,279.55) scale(1,1.13)" font-size="4.3" text-anchor="end" fill="#222" stroke="#222" stroke-width="0.1">-4</text>
<text transform="translate(20.08,282.15) scale(1,1.2)" font-size="5.9" text-anchor="end" fill="#222" stroke="#222" stroke-width="0.1">10</text>
<text transform="translate(24.3,293.55) scale(1,1.13)" font-size="4.3" text-anchor="end" fill="#222" stroke="#222" stroke-width="0.1">-5</text>
<text transform="translate(20.08,296.15) scale(1,1.2)" font-size="5.9" text-anchor="end" fill="#222" stroke="#222" stroke-width="0.1">10</text>
<text transform="translate(24.3,307.54) scale(1,1.13)" font-size="4.3" text-anchor="end" fill="#222" stroke="#222" stroke-width="0.1">-6</text>
<text transform="translate(20.08,310.14) scale(1,1.2)" font-size="5.9" text-anchor="end" fill="#222" stroke="#222" stroke-width="0.1">10</text>
<text transform="translate(24.3,321.53) scale(1,1.13)" font-size="4.3" text-anchor="end" fill="#222" stroke="#222" stroke-width="0.1">-7</text>
<text transform="translate(20.08,324.13) scale(1,1.2)" font-size="5.9" text-anchor="end" fill="#222" stroke="#222" stroke-width="0.1">10</text>
<text transform="translate(24.3,335.52) scale(1,1.13)" font-size="4.3" text-anchor="end" fill="#222" stroke="#222" stroke-width="0.1">-8</text>
<text transform="translate(20.08,338.12) scale(1,1.2)" font-size="5.9" text-anchor="end" fill="#222" stroke="#222" stroke-width="0.1">10</text>
<text transform="translate(24.3,349.51) scale(1,1.13)" font-size="4.3" text-anchor="end" fill="#222" stroke="#222" stroke-width="0.1">-9</text>
<text transform="translate(20.08,352.11) scale(1,1.2)" font-size="5.9" text-anchor="end" fill="#222" stroke="#222" stroke-width="0.1">10</text>
<text transform="translate(24.3,363.5) scale(1,1.13)" font-size="4.3" text-anchor="end" fill="#222" stroke="#222" stroke-width="0.1">-10</text>
<text transform="translate(17.69,366.1) scale(1,1.2)" font-size="5.9" text-anchor="end" fill="#222" stroke="#222" stroke-width="0.1">10</text>
<path d="M27.6 363.3v-3 M48.62 363.3v-1.6 M60.92 363.3v-1.6 M69.64 363.3v-1.6 M76.41 363.3v-1.6 M81.94 363.3v-1.6 M86.62 363.3v-1.6 M90.67 363.3v-1.6 M94.24 363.3v-1.6 M97.43 363.3v-3 M118.46 363.3v-1.6 M130.75 363.3v-1.6 M139.48 363.3v-1.6 M146.24 363.3v-1.6 M151.77 363.3v-1.6 M156.45 363.3v-1.6 M160.5 363.3v-1.6 M164.07 363.3v-1.6 M167.27 363.3v-3 M188.29 363.3v-1.6 M200.59 363.3v-1.6 M209.31 363.3v-1.6 M216.08 363.3v-1.6 M221.61 363.3v-1.6 M226.28 363.3v-1.6 M230.33 363.3v-1.6 M233.9 363.3v-1.6 M237.1 363.3v-3" stroke="#444" stroke-width="0.8" fill="none"/>
<text transform="translate(27.6,371.5) scale(1,1.13)" font-size="6.5" text-anchor="middle" fill="#222" stroke="#222" stroke-width="0.1">0.1</text>
<text transform="translate(97.43,371.5) scale(1,1.13)" font-size="6.5" text-anchor="middle" fill="#222" stroke="#222" stroke-width="0.1">1</text>
<text transform="translate(167.27,371.5) scale(1,1.13)" font-size="6.5" text-anchor="middle" fill="#222" stroke="#222" stroke-width="0.1">10</text>
<text transform="translate(237.1,371.5) scale(1,1.13)" font-size="6.5" text-anchor="middle" fill="#222" stroke="#222" stroke-width="0.1">100</text>
<text transform="translate(132.35,384.7) scale(1,1.06)" font-size="8.3" text-anchor="middle" fill="#222" stroke="#222" stroke-width="0.1">Volume fraction (<tspan font-style="italic">v</tspan>-<tspan font-style="italic">v</tspan><tspan font-size="5.2" dy="2">c</tspan><tspan dy="-2">)</tspan></text>
<text transform="translate(6.5,286.35) rotate(-90) scale(1,1.0)" font-size="8.3" text-anchor="middle" fill="#222">Electrical conductivity (S/cm)</text>
<path d="M284.9 208.4H496.4" stroke="#3a3a3a" stroke-width="1.0"/>
<path d="M495.9 208.4V363.3" stroke="#444" stroke-width="1.0"/>
<path d="M285.4 208.4V363.8M284.9 363.3H496.4" stroke="#333" stroke-width="1.0"/>
<path d="M285.4 208.4h3 M285.4 218.24h2.0 M285.4 215.76h2.0 M285.4 214h2.0 M285.4 212.64h2.0 M285.4 211.52h2.0 M285.4 210.58h2.0 M285.4 209.76h2.0 M285.4 209.04h2.0 M285.4 222.48h3 M285.4 232.32h2.0 M285.4 229.84h2.0 M285.4 228.09h2.0 M285.4 226.72h2.0 M285.4 225.61h2.0 M285.4 224.66h2.0 M285.4 223.85h2.0 M285.4 223.13h2.0 M285.4 236.56h3 M285.4 246.41h2.0 M285.4 243.93h2.0 M285.4 242.17h2.0 M285.4 240.8h2.0 M285.4 239.69h2.0 M285.4 238.74h2.0 M285.4 237.93h2.0 M285.4 237.21h2.0 M285.4 250.65h3 M285.4 260.49h2.0 M285.4 258.01h2.0 M285.4 256.25h2.0 M285.4 254.88h2.0 M285.4 253.77h2.0 M285.4 252.83h2.0 M285.4 252.01h2.0 M285.4 251.29h2.0 M285.4 264.73h3 M285.4 274.57h2.0 M285.4 272.09h2.0 M285.4 270.33h2.0 M285.4 268.97h2.0 M285.4 267.85h2.0 M285.4 266.91h2.0 M285.4 266.09h2.0 M285.4 265.37h2.0 M285.4 278.81h3 M285.4 288.65h2.0 M285.4 286.17h2.0 M285.4 284.41h2.0 M285.4 283.05h2.0 M285.4 281.93h2.0 M285.4 280.99h2.0 M285.4 280.17h2.0 M285.4 279.45h2.0 M285.4 292.89h3 M285.4 302.73h2.0 M285.4 300.25h2.0 M285.4 298.49h2.0 M285.4 297.13h2.0 M285.4 296.01h2.0 M285.4 295.07h2.0 M285.4 294.26h2.0 M285.4 293.54h2.0 M285.4 306.97h3 M285.4 316.82h2.0 M285.4 314.34h2.0 M285.4 312.58h2.0 M285.4 311.21h2.0 M285.4 310.1h2.0 M285.4 309.15h2.0 M285.4 308.34h2.0 M285.4 307.62h2.0 M285.4 321.05h3 M285.4 330.9h2.0 M285.4 328.42h2.0 M285.4 326.66h2.0 M285.4 325.29h2.0 M285.4 324.18h2.0 M285.4 323.24h2.0 M285.4 322.42h2.0 M285.4 321.7h2.0 M285.4 335.14h3 M285.4 344.98h2.0 M285.4 342.5h2.0 M285.4 340.74h2.0 M285.4 339.38h2.0 M285.4 338.26h2.0 M285.4 337.32h2.0 M285.4 336.5h2.0 M285.4 335.78h2.0 M285.4 349.22h3 M285.4 359.06h2.0 M285.4 356.58h2.0 M285.4 354.82h2.0 M285.4 353.46h2.0 M285.4 352.34h2.0 M285.4 351.4h2.0 M285.4 350.58h2.0 M285.4 349.86h2.0 M285.4 363.3h3" stroke="#333" stroke-width="0.9" fill="none"/>
<text transform="translate(282.1,208.6) scale(1,1.13)" font-size="4.3" text-anchor="end" fill="#222" stroke="#222" stroke-width="0.1">1</text>
<text transform="translate(279.31,211.2) scale(1,1.2)" font-size="5.9" text-anchor="end" fill="#222" stroke="#222" stroke-width="0.1">10</text>
<text transform="translate(282.1,222.68) scale(1,1.13)" font-size="4.3" text-anchor="end" fill="#222" stroke="#222" stroke-width="0.1">0</text>
<text transform="translate(279.31,225.28) scale(1,1.2)" font-size="5.9" text-anchor="end" fill="#222" stroke="#222" stroke-width="0.1">10</text>
<text transform="translate(282.1,236.76) scale(1,1.13)" font-size="4.3" text-anchor="end" fill="#222" stroke="#222" stroke-width="0.1">-1</text>
<text transform="translate(277.88,239.36) scale(1,1.2)" font-size="5.9" text-anchor="end" fill="#222" stroke="#222" stroke-width="0.1">10</text>
<text transform="translate(282.1,250.85) scale(1,1.13)" font-size="4.3" text-anchor="end" fill="#222" stroke="#222" stroke-width="0.1">-2</text>
<text transform="translate(277.88,253.45) scale(1,1.2)" font-size="5.9" text-anchor="end" fill="#222" stroke="#222" stroke-width="0.1">10</text>
<text transform="translate(282.1,264.93) scale(1,1.13)" font-size="4.3" text-anchor="end" fill="#222" stroke="#222" stroke-width="0.1">-3</text>
<text transform="translate(277.88,267.53) scale(1,1.2)" font-size="5.9" text-anchor="end" fill="#222" stroke="#222" stroke-width="0.1">10</text>
<text transform="translate(282.1,279.01) scale(1,1.13)" font-size="4.3" text-anchor="end" fill="#222" stroke="#222" stroke-width="0.1">-4</text>
<text transform="translate(277.88,281.61) scale(1,1.2)" font-size="5.9" text-anchor="end" fill="#222" stroke="#222" stroke-width="0.1">10</text>
<text transform="translate(282.1,293.09) scale(1,1.13)" font-size="4.3" text-anchor="end" fill="#222" stroke="#222" stroke-width="0.1">-5</text>
<text transform="translate(277.88,295.69) scale(1,1.2)" font-size="5.9" text-anchor="end" fill="#222" stroke="#222" stroke-width="0.1">10</text>
<text transform="translate(282.1,307.17) scale(1,1.13)" font-size="4.3" text-anchor="end" fill="#222" stroke="#222" stroke-width="0.1">-6</text>
<text transform="translate(277.88,309.77) scale(1,1.2)" font-size="5.9" text-anchor="end" fill="#222" stroke="#222" stroke-width="0.1">10</text>
<text transform="translate(282.1,321.25) scale(1,1.13)" font-size="4.3" text-anchor="end" fill="#222" stroke="#222" stroke-width="0.1">-7</text>
<text transform="translate(277.88,323.85) scale(1,1.2)" font-size="5.9" text-anchor="end" fill="#222" stroke="#222" stroke-width="0.1">10</text>
<text transform="translate(282.1,335.34) scale(1,1.13)" font-size="4.3" text-anchor="end" fill="#222" stroke="#222" stroke-width="0.1">-8</text>
<text transform="translate(277.88,337.94) scale(1,1.2)" font-size="5.9" text-anchor="end" fill="#222" stroke="#222" stroke-width="0.1">10</text>
<text transform="translate(282.1,349.42) scale(1,1.13)" font-size="4.3" text-anchor="end" fill="#222" stroke="#222" stroke-width="0.1">-9</text>
<text transform="translate(277.88,352.02) scale(1,1.2)" font-size="5.9" text-anchor="end" fill="#222" stroke="#222" stroke-width="0.1">10</text>
<text transform="translate(282.1,363.5) scale(1,1.13)" font-size="4.3" text-anchor="end" fill="#222" stroke="#222" stroke-width="0.1">-10</text>
<text transform="translate(275.49,366.1) scale(1,1.2)" font-size="5.9" text-anchor="end" fill="#222" stroke="#222" stroke-width="0.1">10</text>
<path d="M285.4 363.3v-3 M306.52 363.3v-1.6 M318.88 363.3v-1.6 M327.64 363.3v-1.6 M334.44 363.3v-1.6 M340 363.3v-1.6 M344.7 363.3v-1.6 M348.77 363.3v-1.6 M352.36 363.3v-1.6 M355.57 363.3v-3 M376.69 363.3v-1.6 M389.04 363.3v-1.6 M397.81 363.3v-1.6 M404.61 363.3v-1.6 M410.17 363.3v-1.6 M414.86 363.3v-1.6 M418.93 363.3v-1.6 M422.52 363.3v-1.6 M425.73 363.3v-3 M446.86 363.3v-1.6 M459.21 363.3v-1.6 M467.98 363.3v-1.6 M474.78 363.3v-1.6 M480.33 363.3v-1.6 M485.03 363.3v-1.6 M489.1 363.3v-1.6 M492.69 363.3v-1.6 M495.9 363.3v-3" stroke="#333" stroke-width="0.8" fill="none"/>
<text transform="translate(285.4,371.5) scale(1,1.13)" font-size="6.5" text-anchor="middle" fill="#222" stroke="#222" stroke-width="0.1">0.1</text>
<text transform="translate(355.57,371.5) scale(1,1.13)" font-size="6.5" text-anchor="middle" fill="#222" stroke="#222" stroke-width="0.1">1</text>
<text transform="translate(425.73,371.5) scale(1,1.13)" font-size="6.5" text-anchor="middle" fill="#222" stroke="#222" stroke-width="0.1">10</text>
<text transform="translate(495.9,371.5) scale(1,1.13)" font-size="6.5" text-anchor="middle" fill="#222" stroke="#222" stroke-width="0.1">100</text>
<text transform="translate(390.65,384.7) scale(1,1.06)" font-size="8.3" text-anchor="middle" fill="#222" stroke="#222" stroke-width="0.1">Volume fraction (<tspan font-style="italic">v</tspan>-<tspan font-style="italic">v</tspan><tspan font-size="5.2" dy="2">c</tspan><tspan dy="-2">)</tspan></text>
<text transform="translate(264.6,285.85) rotate(-90) scale(1,1.0)" font-size="8.3" text-anchor="middle" fill="#222">Electrical conductivity (S/cm)</text>
<path d="M542.2 209.4H752.8" stroke="#777" stroke-width="1.0"/>
<path d="M752.3 209.4V363.3" stroke="#888" stroke-width="1.0"/>
<path d="M542.7 209.4V363.8M542.2 363.3H752.8" stroke="#555" stroke-width="1.0"/>
<path d="M542.7 209.4h3 M542.7 219.18h2.0 M542.7 216.72h2.0 M542.7 214.97h2.0 M542.7 213.61h2.0 M542.7 212.5h2.0 M542.7 211.57h2.0 M542.7 210.76h2.0 M542.7 210.04h2.0 M542.7 223.39h3 M542.7 233.17h2.0 M542.7 230.71h2.0 M542.7 228.96h2.0 M542.7 227.6h2.0 M542.7 226.49h2.0 M542.7 225.56h2.0 M542.7 224.75h2.0 M542.7 224.03h2.0 M542.7 237.38h3 M542.7 247.16h2.0 M542.7 244.7h2.0 M542.7 242.95h2.0 M542.7 241.59h2.0 M542.7 240.49h2.0 M542.7 239.55h2.0 M542.7 238.74h2.0 M542.7 238.02h2.0 M542.7 251.37h3 M542.7 261.15h2.0 M542.7 258.69h2.0 M542.7 256.94h2.0 M542.7 255.58h2.0 M542.7 254.48h2.0 M542.7 253.54h2.0 M542.7 252.73h2.0 M542.7 252.01h2.0 M542.7 265.36h3 M542.7 275.14h2.0 M542.7 272.68h2.0 M542.7 270.93h2.0 M542.7 269.58h2.0 M542.7 268.47h2.0 M542.7 267.53h2.0 M542.7 266.72h2.0 M542.7 266h2.0 M542.7 279.35h3 M542.7 289.13h2.0 M542.7 286.67h2.0 M542.7 284.92h2.0 M542.7 283.57h2.0 M542.7 282.46h2.0 M542.7 281.52h2.0 M542.7 280.71h2.0 M542.7 279.99h2.0 M542.7 293.35h3 M542.7 303.12h2.0 M542.7 300.66h2.0 M542.7 298.91h2.0 M542.7 297.56h2.0 M542.7 296.45h2.0 M542.7 295.51h2.0 M542.7 294.7h2.0 M542.7 293.99h2.0 M542.7 307.34h3 M542.7 317.12h2.0 M542.7 314.65h2.0 M542.7 312.9h2.0 M542.7 311.55h2.0 M542.7 310.44h2.0 M542.7 309.5h2.0 M542.7 308.69h2.0 M542.7 307.98h2.0 M542.7 321.33h3 M542.7 331.11h2.0 M542.7 328.64h2.0 M542.7 326.89h2.0 M542.7 325.54h2.0 M542.7 324.43h2.0 M542.7 323.49h2.0 M542.7 322.68h2.0 M542.7 321.97h2.0 M542.7 335.32h3 M542.7 345.1h2.0 M542.7 342.63h2.0 M542.7 340.89h2.0 M542.7 339.53h2.0 M542.7 338.42h2.0 M542.7 337.49h2.0 M542.7 336.67h2.0 M542.7 335.96h2.0 M542.7 349.31h3 M542.7 359.09h2.0 M542.7 356.62h2.0 M542.7 354.88h2.0 M542.7 353.52h2.0 M542.7 352.41h2.0 M542.7 351.48h2.0 M542.7 350.66h2.0 M542.7 349.95h2.0 M542.7 363.3h3" stroke="#555" stroke-width="0.9" fill="none"/>
<text transform="translate(539.4,209.6) scale(1,1.13)" font-size="4.3" text-anchor="end" fill="#222" stroke="#222" stroke-width="0.1">1</text>
<text transform="translate(536.61,212.2) scale(1,1.2)" font-size="5.9" text-anchor="end" fill="#222" stroke="#222" stroke-width="0.1">10</text>
<text transform="translate(539.4,223.59) scale(1,1.13)" font-size="4.3" text-anchor="end" fill="#222" stroke="#222" stroke-width="0.1">0</text>
<text transform="translate(536.61,226.19) scale(1,1.2)" font-size="5.9" text-anchor="end" fill="#222" stroke="#222" stroke-width="0.1">10</text>
<text transform="translate(539.4,237.58) scale(1,1.13)" font-size="4.3" text-anchor="end" fill="#222" stroke="#222" stroke-width="0.1">-1</text>
<text transform="translate(535.18,240.18) scale(1,1.2)" font-size="5.9" text-anchor="end" fill="#222" stroke="#222" stroke-width="0.1">10</text>
<text transform="translate(539.4,251.57) scale(1,1.13)" font-size="4.3" text-anchor="end" fill="#222" stroke="#222" stroke-width="0.1">-2</text>
<text transform="translate(535.18,254.17) scale(1,1.2)" font-size="5.9" text-anchor="end" fill="#222" stroke="#222" stroke-width="0.1">10</text>
<text transform="translate(539.4,265.56) scale(1,1.13)" font-size="4.3" text-anchor="end" fill="#222" stroke="#222" stroke-width="0.1">-3</text>
<text transform="translate(535.18,268.16) scale(1,1.2)" font-size="5.9" text-anchor="end" fill="#222" stroke="#222" stroke-width="0.1">10</text>
<text transform="translate(539.4,279.55) scale(1,1.13)" font-size="4.3" text-anchor="end" fill="#222" stroke="#222" stroke-width="0.1">-4</text>
<text transform="translate(535.18,282.15) scale(1,1.2)" font-size="5.9" text-anchor="end" fill="#222" stroke="#222" stroke-width="0.1">10</text>
<text transform="translate(539.4,293.55) scale(1,1.13)" font-size="4.3" text-anchor="end" fill="#222" stroke="#222" stroke-width="0.1">-5</text>
<text transform="translate(535.18,296.15) scale(1,1.2)" font-size="5.9" text-anchor="end" fill="#222" stroke="#222" stroke-width="0.1">10</text>
<text transform="translate(539.4,307.54) scale(1,1.13)" font-size="4.3" text-anchor="end" fill="#222" stroke="#222" stroke-width="0.1">-6</text>
<text transform="translate(535.18,310.14) scale(1,1.2)" font-size="5.9" text-anchor="end" fill="#222" stroke="#222" stroke-width="0.1">10</text>
<text transform="translate(539.4,321.53) scale(1,1.13)" font-size="4.3" text-anchor="end" fill="#222" stroke="#222" stroke-width="0.1">-7</text>
<text transform="translate(535.18,324.13) scale(1,1.2)" font-size="5.9" text-anchor="end" fill="#222" stroke="#222" stroke-width="0.1">10</text>
<text transform="translate(539.4,335.52) scale(1,1.13)" font-size="4.3" text-anchor="end" fill="#222" stroke="#222" stroke-width="0.1">-8</text>
<text transform="translate(535.18,338.12) scale(1,1.2)" font-size="5.9" text-anchor="end" fill="#222" stroke="#222" stroke-width="0.1">10</text>
<text transform="translate(539.4,349.51) scale(1,1.13)" font-size="4.3" text-anchor="end" fill="#222" stroke="#222" stroke-width="0.1">-9</text>
<text transform="translate(535.18,352.11) scale(1,1.2)" font-size="5.9" text-anchor="end" fill="#222" stroke="#222" stroke-width="0.1">10</text>
<text transform="translate(539.4,363.5) scale(1,1.13)" font-size="4.3" text-anchor="end" fill="#222" stroke="#222" stroke-width="0.1">-10</text>
<text transform="translate(532.79,366.1) scale(1,1.2)" font-size="5.9" text-anchor="end" fill="#222" stroke="#222" stroke-width="0.1">10</text>
<path d="M542.7 363.3v-3 M563.73 363.3v-1.6 M576.03 363.3v-1.6 M584.76 363.3v-1.6 M591.53 363.3v-1.6 M597.07 363.3v-1.6 M601.74 363.3v-1.6 M605.8 363.3v-1.6 M609.37 363.3v-1.6 M612.57 363.3v-3 M633.6 363.3v-1.6 M645.9 363.3v-1.6 M654.63 363.3v-1.6 M661.4 363.3v-1.6 M666.93 363.3v-1.6 M671.61 363.3v-1.6 M675.66 363.3v-1.6 M679.24 363.3v-1.6 M682.43 363.3v-3 M703.47 363.3v-1.6 M715.77 363.3v-1.6 M724.5 363.3v-1.6 M731.27 363.3v-1.6 M736.8 363.3v-1.6 M741.48 363.3v-1.6 M745.53 363.3v-1.6 M749.1 363.3v-1.6 M752.3 363.3v-3" stroke="#555" stroke-width="0.8" fill="none"/>
<text transform="translate(542.7,371.5) scale(1,1.13)" font-size="6.5" text-anchor="middle" fill="#222" stroke="#222" stroke-width="0.1">0.1</text>
<text transform="translate(612.57,371.5) scale(1,1.13)" font-size="6.5" text-anchor="middle" fill="#222" stroke="#222" stroke-width="0.1">1</text>
<text transform="translate(682.43,371.5) scale(1,1.13)" font-size="6.5" text-anchor="middle" fill="#222" stroke="#222" stroke-width="0.1">10</text>
<text transform="translate(752.3,371.5) scale(1,1.13)" font-size="6.5" text-anchor="middle" fill="#222" stroke="#222" stroke-width="0.1">100</text>
<text transform="translate(647.5,384.7) scale(1,1.06)" font-size="8.3" text-anchor="middle" fill="#222" stroke="#222" stroke-width="0.1">Volume fraction (<tspan font-style="italic">v</tspan>-<tspan font-style="italic">v</tspan><tspan font-size="5.2" dy="2">c</tspan><tspan dy="-2">)</tspan></text>
<text transform="translate(521.5,286.35) rotate(-90) scale(1,1.0)" font-size="8.3" text-anchor="middle" fill="#222">Electrical conductivity (S/cm)</text>
<path d="M542.6 335V363.3" stroke="#6666CC" stroke-width="1.2"/>
<path d="M284.8 336V363.3" stroke="#E06060" stroke-width="0.7" opacity="0.6"/>
<text transform="translate(78.7,353.9) scale(1,1.13)" font-size="8.95" fill="#222" stroke="#222" stroke-width="0.1">Result: log(σ)=3.65log(v-0.0946)-6.27</text>
<text transform="translate(340,357.1) scale(1,1.13)" font-size="8.95" fill="#222" stroke="#222" stroke-width="0.1">Result: log(σ)=5.13log(v-0.0748)-8.84</text>
<text transform="translate(594.9,352.6) scale(1,1.13)" font-size="8.95" fill="#222" stroke="#222" stroke-width="0.1">Result: log(σ)=5.07log(v-0.2738)-8.42</text>
<text transform="translate(36,19) scale(1,1.08)" font-size="9.7" font-weight="bold" fill="#111">CB/PP</text>
<text transform="translate(294,18.6) scale(1,1.08)" font-size="9.7" font-weight="bold" fill="#111">CB/PET</text>
<text transform="translate(548.9,17.5) scale(1,1.08)" font-size="9.7" font-weight="bold" fill="#111">CB/Nylon</text>
<text transform="translate(36.1,223.4) scale(1,1.08)" font-size="9.7" font-weight="bold" fill="#111">CB/PP</text>
<text transform="translate(294,222.7) scale(1,1.08)" font-size="9.7" font-weight="bold" fill="#111">CB/PET</text>
<text transform="translate(550.9,223.1) scale(1,1.08)" font-size="9.7" font-weight="bold" fill="#111">CB/Nylon</text>
<text transform="translate(0.5,16.2) scale(1,1.0)" font-size="16" font-weight="bold" fill="#000">a</text>
<text transform="translate(256.4,16.5) scale(1,1.0)" font-size="16" font-weight="bold" fill="#000">b</text>
<text transform="translate(512,16.6) scale(1,1.0)" font-size="16" font-weight="bold" fill="#000">c</text>
<text transform="translate(0.3,218.6) scale(1,1.0)" font-size="16" font-weight="bold" fill="#000">d</text>
<text transform="translate(257,215.8) scale(1,1.0)" font-size="16" font-weight="bold" fill="#000">e</text>
<text transform="translate(514,215.8) scale(1,1.0)" font-size="16" font-weight="bold" fill="#000">f</text>
</svg></body></html>
